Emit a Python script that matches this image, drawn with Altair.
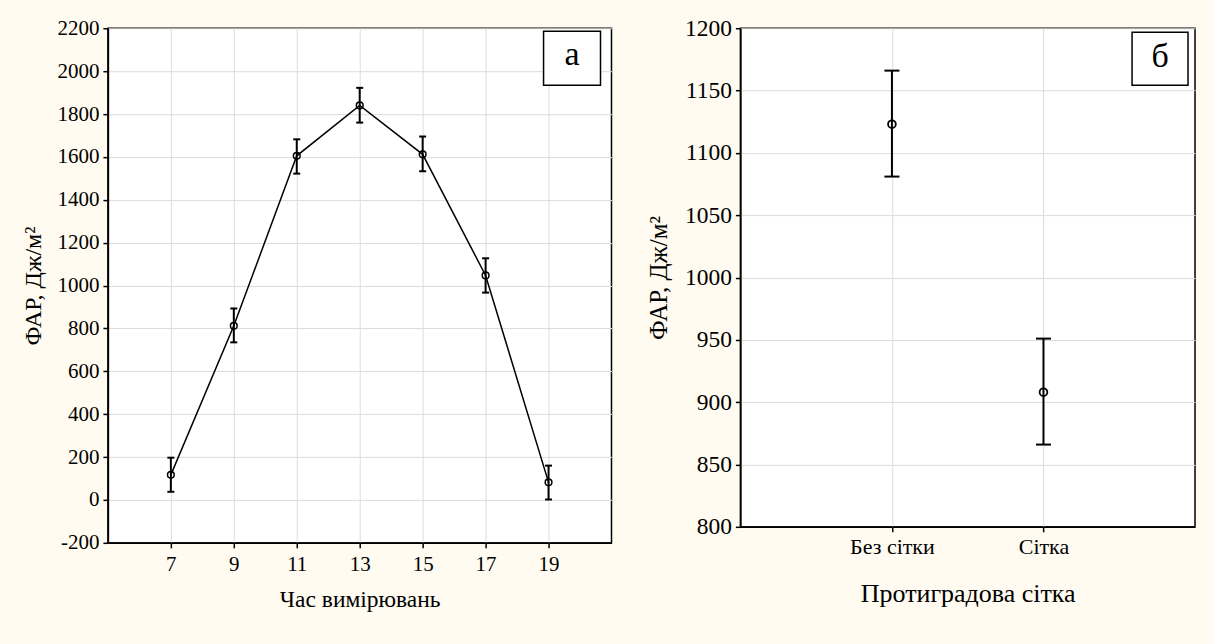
import altair as alt
import pandas as pd

# ---- Panel a: PAR by time of measurement ----
hours = [7, 9, 11, 13, 15, 17, 19]
par_mean = [117, 812, 1605, 1840, 1612, 1047, 82]
par_upper = [197, 893, 1682, 1922, 1695, 1127, 160]
par_lower = [38, 735, 1522, 1760, 1533, 967, 2]

# ---- Panel б: PAR with / without anti-hail net ----
net_cats = ["Без сітки", "Сітка"]
net_mean = [1123, 908]
net_upper = [1166, 951]
net_lower = [1081, 866]

y_ticks_a = list(range(-200, 2201, 200))
y_ticks_b = list(range(800, 1201, 50))

FONT = "Liberation Serif"
GRID = "#dcdcdc"
PLAIN = "'' + datum.value"

df_a = pd.DataFrame({"hour": hours, "mean": par_mean, "upper": par_upper, "lower": par_lower})
df_b = pd.DataFrame({"cat": net_cats, "mean": net_mean, "upper": net_upper, "lower": net_lower})

# ---------- Panel a ----------
xa = alt.X("hour:Q",
           scale=alt.Scale(domain=[5, 21], nice=False, zero=False),
           axis=alt.Axis(title="Час вимірювань", values=hours, grid=True, gridColor=GRID,
                         labelFontSize=21, titleFontSize=23.5, labelPadding=6, titlePadding=13,
                         labelExpr=PLAIN))
ya = alt.Y("mean:Q",
           scale=alt.Scale(domain=[-200, 2200], nice=False, zero=False),
           axis=alt.Axis(title="ФАР, Дж/м²", values=y_ticks_a, grid=True, gridColor=GRID,
                         labelFontSize=21, titleFontSize=24, labelPadding=4, titlePadding=11,
                         labelExpr=PLAIN))

base_a = alt.Chart(df_a)
line_a = base_a.mark_line(color="black", strokeWidth=1.5).encode(x=xa, y=ya)
rule_a = base_a.mark_rule(color="black", strokeWidth=2).encode(x="hour:Q", y="lower:Q", y2="upper:Q")
capu_a = base_a.mark_tick(orient="horizontal", color="black", size=7, thickness=2, opacity=1).encode(x="hour:Q", y="upper:Q")
capl_a = base_a.mark_tick(orient="horizontal", color="black", size=7, thickness=2, opacity=1).encode(x="hour:Q", y="lower:Q")
pts_a = base_a.mark_point(shape="circle", filled=False, color="black", size=45, strokeWidth=1.5, opacity=1).encode(x="hour:Q", y="mean:Q")

lab_a = alt.Chart(pd.DataFrame({"t": ["а"]}))
box_a = lab_a.mark_rect(fill="white", stroke="black", strokeWidth=1.5).encode(
    x=alt.value(436), x2=alt.value(493), y=alt.value(3), y2=alt.value(57))
txt_a = lab_a.mark_text(font=FONT, fontSize=34, color="black", baseline="middle", align="center").encode(
    x=alt.value(464.5), y=alt.value(27), text="t:N")

panel_a = alt.layer(line_a, rule_a, capu_a, capl_a, pts_a, box_a, txt_a).properties(width=504, height=515)

# ---------- Panel б ----------
xb = alt.X("cat:N", sort=net_cats,
           scale=alt.Scale(type="point", padding=1),
           axis=alt.Axis(title="Протиградова сітка", labelAngle=0, grid=True, gridColor=GRID,
                         labelFontSize=22, titleFontSize=26, labelPadding=5, titlePadding=23))
yb = alt.Y("lower:Q",
           scale=alt.Scale(domain=[800, 1200], nice=False, zero=False),
           axis=alt.Axis(title="ФАР, Дж/м²", values=y_ticks_b, grid=True, gridColor=GRID,
                         labelFontSize=23.5, titleFontSize=25, labelPadding=4, titlePadding=13,
                         labelExpr=PLAIN))

base_b = alt.Chart(df_b)
rule_b = base_b.mark_rule(color="black", strokeWidth=2).encode(x=xb, y=yb, y2="upper:Q")
capu_b = base_b.mark_tick(orient="horizontal", color="black", size=15, thickness=2, opacity=1).encode(x=alt.X("cat:N", sort=net_cats), y="upper:Q")
capl_b = base_b.mark_tick(orient="horizontal", color="black", size=15, thickness=2, opacity=1).encode(x=alt.X("cat:N", sort=net_cats), y="lower:Q")
pts_b = base_b.mark_point(shape="circle", filled=False, color="black", size=60, strokeWidth=1.8, opacity=1).encode(x=alt.X("cat:N", sort=net_cats), y="mean:Q")

lab_b = alt.Chart(pd.DataFrame({"t": ["б"]}))
box_b = lab_b.mark_rect(fill="white", stroke="black", strokeWidth=1.5).encode(
    x=alt.value(392), x2=alt.value(448), y=alt.value(4), y2=alt.value(57))
txt_b = lab_b.mark_text(font=FONT, fontSize=34, color="black", baseline="middle", align="center").encode(
    x=alt.value(420), y=alt.value(29), text="t:N")

panel_b = alt.layer(rule_b, capu_b, capl_b, pts_b, box_b, txt_b).properties(width=455, height=499)

chart = (
    alt.hconcat(panel_a, panel_b, spacing=33)
    .properties(background="#fffbf0", padding={"left": 21, "top": 15, "right": 18, "bottom": 34})
    .configure_view(fill="white", stroke="black", strokeWidth=1.5)
    .configure_axis(labelFont=FONT, titleFont=FONT, labelColor="black", titleColor="black",
                    titleFontWeight="normal", domainColor="black", domainWidth=1.5,
                    tickColor="black", tickWidth=1.5, tickSize=5)
)

chart.save("out.html", embed_options={"renderer": "svg", "actions": False})
